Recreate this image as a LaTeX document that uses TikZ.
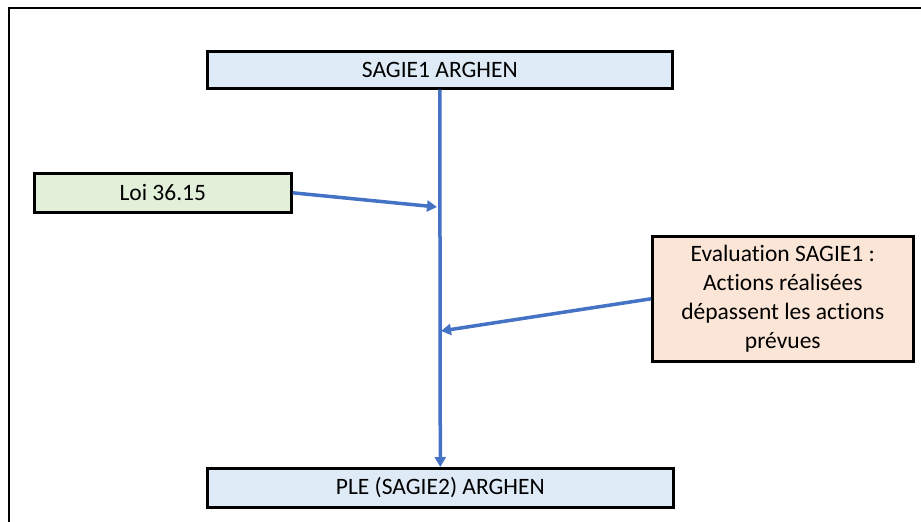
\documentclass[tikz,border=0pt]{standalone}
\usepackage{fontspec}
\setmainfont{Carlito}[Ligatures=NoCommon]
\usetikzlibrary{arrows.meta}
\definecolor{boxblue}{HTML}{DEEBF7}
\definecolor{boxgreen}{HTML}{E2F0D9}
\definecolor{boxorange}{HTML}{FBE5D6}
\definecolor{arrowblue}{HTML}{4472C4}
\begin{document}
\begin{tikzpicture}[x=1pt,y=-1pt,
  box/.style={draw=black,line width=2.6pt,inner sep=0pt,anchor=north west,
    font=\fontsize{23.5}{29}\selectfont,align=center},
  conn/.style={draw=arrowblue,line width=3.5pt,-{Triangle[length=10pt,width=11pt]}}]
\useasboundingbox (0,0) rectangle (921,522);
\draw[line width=2.6pt] (9,522) -- (9,8) -- (921,8);
\node[box,fill=boxblue,minimum width=465pt,minimum height=37pt] (top) at (206,50) {SAGIE1 ARGHEN};
\node[box,fill=boxgreen,minimum width=257pt,minimum height=39pt] (loi) at (33,172) {Loi 36.15};
\node[box,fill=boxorange,minimum width=261pt,minimum height=125pt] (eval) at (651,235) {Evaluation SAGIE1 :\\Actions réalisées\\dépassent les actions\\prévues};
\node[box,fill=boxblue,minimum width=466pt,minimum height=39pt] (bot) at (206,467) {PLE (SAGIE2) ARGHEN};
\coordinate (j1) at (437,207);
\coordinate (j2) at (441,331);
\draw[conn] (top.south) -- (bot.north);
\draw[conn] (loi.east) -- (j1);
\draw[conn] (eval.west) -- (j2);
\end{tikzpicture}
\end{document}
